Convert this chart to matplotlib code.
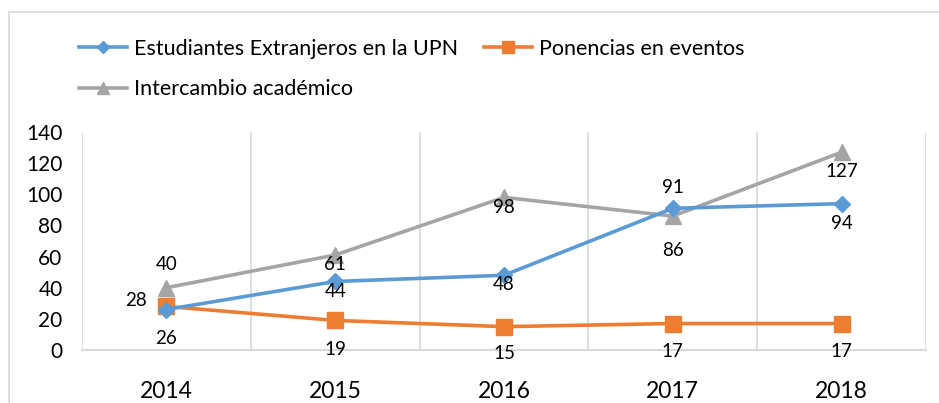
import matplotlib.pyplot as plt
from matplotlib.lines import Line2D

# datos
years = ["2014", "2015", "2016", "2017", "2018"]
extranjeros = [26, 44, 48, 91, 94]
ponencias = [28, 19, 15, 17, 17]
intercambio = [40, 61, 98, 86, 127]

names = ["Estudiantes Extranjeros en la UPN", "Ponencias en eventos", "Intercambio académico"]

# desplazamiento de etiquetas (pt) tal como aparecen en la imagen
off_ext = [(0, -21), (0, -7), (0, -7), (0, 15), (0, -14)]
off_pon = [(-22, 4), (0, -21), (0, -19), (0, -20), (0, -20)]
off_int = [(0, 17), (0, -7), (0, -7), (0, -25), (0, -14)]

plt.rcParams["font.family"] = ["Lato", "DejaVu Sans"]

W, H = 939, 403
fig = plt.figure(figsize=(W / 100, H / 100), dpi=100)
ax = fig.add_axes([82 / W, (H - 350) / H, (926 - 82) / W, (350 - 132) / H])

x = list(range(len(years)))
blue, orange, gray = "#5B9BD5", "#ED7D31", "#A5A5A5"

l1, = ax.plot(x, extranjeros, color=blue, lw=2.6, marker="D", ms=8, label=names[0], zorder=4)
l2, = ax.plot(x, ponencias, color=orange, lw=2.6, marker="s", ms=11, label=names[1], zorder=3)
l3, = ax.plot(x, intercambio, color=gray, lw=2.6, marker="^", ms=11, label=names[2], zorder=2)

for vals, offs in [(extranjeros, off_ext), (ponencias, off_pon), (intercambio, off_int)]:
    for i, v in enumerate(vals):
        ax.annotate(str(v), (i, v), xytext=offs[i], textcoords="offset points",
                    ha="center", va="center", fontsize=13.5, color="black", zorder=6)

ax.set_xlim(-0.5, len(years) - 0.5)
ax.set_ylim(0, 140)
ax.set_yticks(range(0, 141, 20))
ax.set_xticks(x)
ax.set_xticklabels(years, fontsize=16.5)
ax.tick_params(axis="y", labelsize=15, length=0, pad=14)
ax.tick_params(axis="x", length=0, pad=22)

ax.set_xticks([i - 0.5 for i in range(len(years) + 1)], minor=True)
ax.tick_params(axis="x", which="minor", length=0)
ax.grid(axis="x", which="minor", color="#D9D9D9", lw=1.2)
ax.grid(axis="x", which="major", visible=False)

for s in ["top", "right", "left"]:
    ax.spines[s].set_visible(False)
ax.spines["bottom"].set_color("#D9D9D9")
ax.spines["bottom"].set_linewidth(1.5)

fig.legend([l1, l3, l2], [names[0], names[2], names[1]], ncol=2, frameon=False,
           loc="upper left", bbox_to_anchor=(79 / W, 1 - 39 / H),
           fontsize=15.5, handlelength=2.25, handletextpad=0.3, columnspacing=1.2,
           labelspacing=0.95, borderpad=0, borderaxespad=0, markerscale=0.75)

# marco del grafico
fig.add_artist(Line2D([9 / W, 9 / W, 1], [0, 1 - 12 / H, 1 - 12 / H],
                      transform=fig.transFigure, color="#D9D9D9", lw=1.2))

fig.savefig("out.png", dpi=100)
